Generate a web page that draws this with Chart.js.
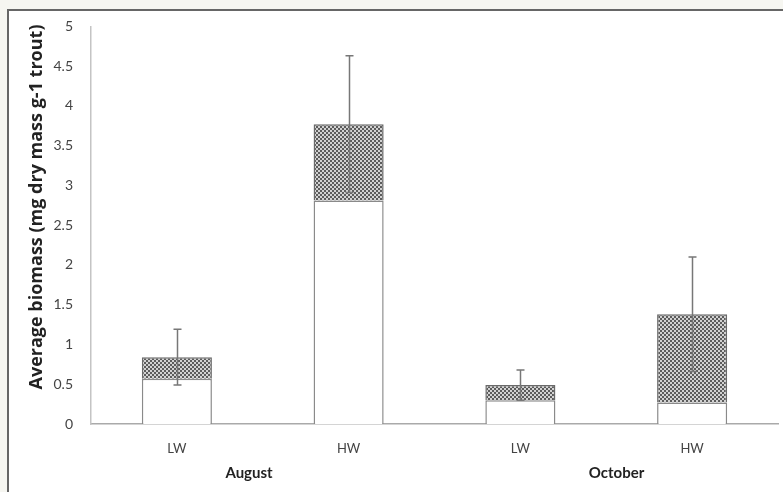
<!DOCTYPE html>
<html>
<head>
<meta charset="utf-8">
<script src="https://cdn.jsdelivr.net/npm/chart.js@4/dist/chart.umd.min.js"></script>
<style>
  html, body { margin: 0; padding: 0; background: #f6f6f1; }
  #wrap { width: 783px; height: 492px; position: relative; }
</style>
</head>
<body>
<div id="wrap"><canvas id="c" width="783" height="492"></canvas></div>
<script>
// biomass per treatment, two stacked components + SE of the total
const categories = ["LW", "HW", "LW", "HW"];
const months = ["August", "October"];
const lowerPart = [0.57, 2.81, 0.30, 0.27];
const upperPart = [0.27, 0.96, 0.19, 1.11];
const errors = [0.35, 0.86, 0.19, 0.72];
const yTicks = [0, 0.5, 1, 1.5, 2, 2.5, 3, 3.5, 4, 4.5, 5];
const yTitle = "Average biomass (mg dry mass g-1 trout)";

const FONT = "Lato, 'Open Sans', sans-serif";

function makeDotPattern() {
  const tile = document.createElement("canvas");
  tile.width = 4;
  tile.height = 4;
  const t = tile.getContext("2d");
  t.fillStyle = "#5c5c5c";
  t.fillRect(0, 0, 4, 4);
  t.fillStyle = "#d2d2d2";
  t.fillRect(0, 0, 2, 2);
  t.fillRect(2, 2, 2, 2);
  return document.getElementById("c").getContext("2d").createPattern(tile, "repeat");
}

const framePlugin = {
  id: "frame",
  beforeDraw(chart) {
    const { ctx, width, height } = chart;
    ctx.save();
    ctx.fillStyle = "#f6f6f1";
    ctx.fillRect(0, 0, width, height);
    ctx.fillStyle = "#ffffff";
    ctx.fillRect(8, 10, width - 8, height - 10);
    ctx.strokeStyle = "#666";
    ctx.lineWidth = 2;
    ctx.beginPath();
    ctx.moveTo(8, height);
    ctx.lineTo(8, 10);
    ctx.lineTo(width, 10);
    ctx.stroke();
    ctx.restore();
  },
};

const errorBarPlugin = {
  id: "errorBars",
  afterDatasetsDraw(chart) {
    const { ctx } = chart;
    const y = chart.scales.y;
    const meta = chart.getDatasetMeta(1);
    ctx.save();
    ctx.strokeStyle = "#777";
    ctx.lineWidth = 1.5;
    meta.data.forEach((bar, i) => {
      const total = lowerPart[i] + upperPart[i];
      const top = y.getPixelForValue(total + errors[i]);
      const bot = y.getPixelForValue(total - errors[i]);
      const x = Math.round(bar.x) + 0.5;
      ctx.beginPath();
      ctx.moveTo(x, top);
      ctx.lineTo(x, bot);
      ctx.moveTo(x - 4, top);
      ctx.lineTo(x + 4, top);
      ctx.moveTo(x - 4, bot);
      ctx.lineTo(x + 4, bot);
      ctx.stroke();
    });
    ctx.restore();
  },
};

// month names under each pair of bars, plus the rotated y title
const labelPlugin = {
  id: "extraLabels",
  afterDraw(chart) {
    const { ctx } = chart;
    const x = chart.scales.x;
    const pos = [0.42, 2.56];
    ctx.save();
    ctx.font = "bold 15px " + FONT;
    ctx.fillStyle = "#222";
    ctx.textAlign = "center";
    ctx.textBaseline = "middle";
    months.forEach((m, i) => {
      ctx.fillText(m, x.getPixelForValue(pos[i]), 473);
    });

    ctx.translate(37, 207);
    ctx.rotate(-Math.PI / 2);
    ctx.font = "bold 18px 'Open Sans', sans-serif";
    ctx.fillText(yTitle, 0, 0);
    ctx.restore();
  },
};

new Chart(document.getElementById("c"), {
  type: "bar",
  data: {
    labels: categories,
    datasets: [
      {
        data: lowerPart,
        backgroundColor: "#ffffff",
        borderColor: "#8a8a8a",
        borderWidth: 1.5,
        barPercentage: 0.51,
        categoryPercentage: 0.8,
      },
      {
        data: upperPart,
        backgroundColor: makeDotPattern(),
        borderColor: "#6a6a6a",
        borderWidth: 1.5,
        barPercentage: 0.51,
        categoryPercentage: 0.8,
      },
    ],
  },
  options: {
    responsive: false,
    animation: false,
    layout: { padding: { left: 24, right: 5, top: 18, bottom: 0 } },
    plugins: { legend: { display: false }, tooltip: { enabled: false } },
    scales: {
      x: {
        stacked: true,
        grid: { display: false, drawTicks: false },
        border: { color: "#aaa", width: 1.5 },
        ticks: { color: "#444", padding: 17, font: { family: FONT, size: 13 } },
        afterFit(scale) { scale.height = 68; },
      },
      y: {
        stacked: true,
        min: 0,
        max: 5,
        afterBuildTicks(scale) { scale.ticks = yTicks.map((v) => ({ value: v })); },
        grid: { display: false, drawTicks: false },
        border: { color: "#c4c4c4", width: 1.5 },
        ticks: {
          color: "#444",
          padding: 18,
          font: { family: FONT, size: 14 },
          callback: (v) => String(v),
        },
        afterFit(scale) { scale.width = 67; },
      },
    },
  },
  plugins: [framePlugin, errorBarPlugin, labelPlugin],
});
</script>
</body>
</html>
